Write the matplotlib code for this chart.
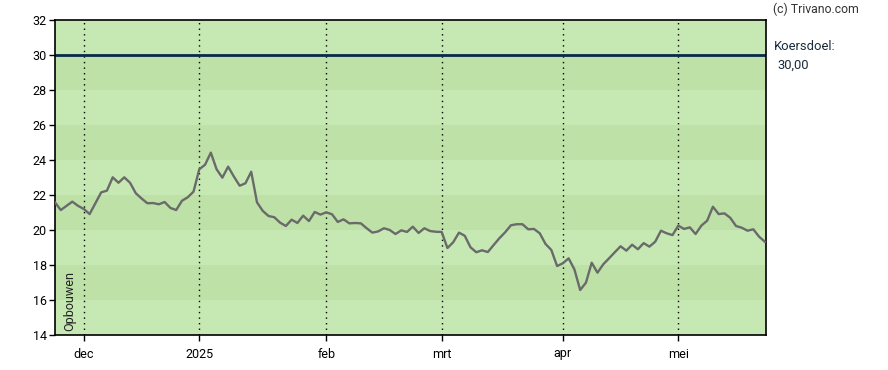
import matplotlib
matplotlib.use("Agg")
import matplotlib.pyplot as plt
import pandas as pd
import numpy as np

plt.rcParams['font.family'] = ['Roboto', 'DejaVu Sans']

# ---- data ----
start_date = "2024-11-25"
end_date = "2025-05-23"
holidays = ["2024-12-25", "2024-12-26", "2025-01-01", "2025-04-18", "2025-04-21", "2025-05-01"]

prices = [
    21.58, 21.14, 21.38, 21.62, 21.38, 21.20, 20.91, 21.53, 22.15, 22.25,
    23.01, 22.70, 23.01, 22.70, 22.10, 21.80, 21.53, 21.54, 21.47, 21.60,
    21.26, 21.14, 21.67, 21.87, 22.19, 23.47, 23.73, 24.42, 23.47, 22.99,
    23.62, 23.05, 22.53, 22.67, 23.33, 21.58, 21.09, 20.80, 20.73, 20.42,
    20.23, 20.59, 20.40, 20.82, 20.51, 21.03, 20.88, 21.01, 20.90, 20.46,
    20.61, 20.38, 20.40, 20.38, 20.10, 19.85, 19.92, 20.10, 20.00, 19.77,
    19.98, 19.89, 20.19, 19.83, 20.10, 19.94, 19.90, 19.89, 18.97, 19.30,
    19.85, 19.67, 19.01, 18.73, 18.84, 18.74, 19.14, 19.53, 19.87, 20.27,
    20.33, 20.33, 20.04, 20.06, 19.81, 19.20, 18.86, 17.94, 18.10, 18.38,
    17.75, 16.57, 16.99, 18.13, 17.56, 18.04, 18.38, 18.73, 19.07, 18.82,
    19.16, 18.90, 19.25, 19.05, 19.33, 19.96, 19.81, 19.71, 20.25, 20.06,
    20.15, 19.77, 20.25, 20.53, 21.33, 20.91, 20.95, 20.70, 20.23, 20.13,
    19.96, 20.04, 19.62, 19.33,
]

target = 30.00
month_labels = {12: "dec", 1: "2025", 2: "feb", 3: "mrt", 4: "apr", 5: "mei"}
y_ticks = [14, 16, 18, 20, 22, 24, 26, 28, 30, 32]

# ---- build trading day index ----
dates = pd.bdate_range(start_date, end_date)
dates = dates[~dates.isin(pd.to_datetime(holidays))]
n = min(len(dates), len(prices))
dates = dates[:n]
prices = prices[:n]
idx = np.arange(n)

tick_pos, tick_lab = [], []
for i in range(1, n):
    if dates[i].month != dates[i - 1].month:
        tick_pos.append(i)
        tick_lab.append(month_labels.get(dates[i].month, dates[i].strftime("%b")))

# ---- figure ----
W, H = 888, 370
fig = plt.figure(figsize=(W / 100, H / 100), dpi=100)
ax = fig.add_axes([55 / W, 1 - 335 / H, (766 - 55) / W, (335 - 20) / H])

light = "#c6e9b4"
dark = "#bee1a8"
for k in range(len(y_ticks) - 1):
    lo, hi = y_ticks[k], y_ticks[k + 1]
    ax.axhspan(lo, hi, color=dark if k % 2 == 1 else light, lw=0, zorder=0)

for p in tick_pos:
    ax.axvline(p, color="black", lw=1.0, ls=(0, (1, 3)), zorder=1)

ax.axhline(target, color="#062a4a", lw=2.0, zorder=2)
ax.plot(idx, prices, color="#6a6a6a", lw=1.7, zorder=3)

ax.set_xlim(0, n - 1 + 0.2)
ax.set_ylim(y_ticks[0], y_ticks[-1])
ax.set_yticks(y_ticks)
ax.set_xticks(tick_pos)
ax.set_xticklabels(tick_lab)
ax.tick_params(axis="both", direction="out", length=4, width=1, labelsize=9, colors="black")
ax.tick_params(axis="y", pad=2)
ax.tick_params(axis="x", pad=5)
for s in ax.spines.values():
    s.set_linewidth(1.2)
    s.set_color("black")

ax.text(0.012, 0.012, "Opbouwen", rotation=90, transform=ax.transAxes,
        ha="left", va="bottom", fontsize=9, color="#222222")

fig.text(773 / W, 1 - 9 / H, "(c) Trivano.com", ha="left", va="center", fontsize=8.8, color="#333333")
fig.text(774 / W, 1 - 46 / H, "Koersdoel:", ha="left", va="center", fontsize=9.4, color="#1a2a3a")
fig.text(777 / W, 1 - 65 / H, "30,00", ha="left", va="center", fontsize=9.4, color="#1a2a3a")

fig.savefig("out.png", dpi=100, facecolor="white")
